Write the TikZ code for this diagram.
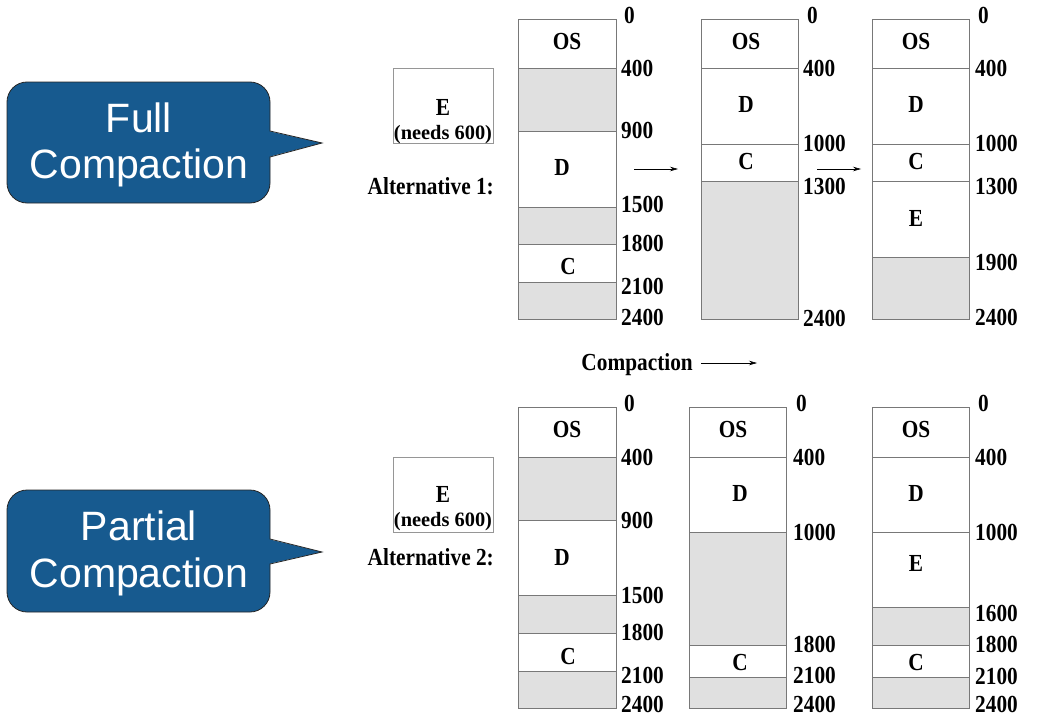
\documentclass[tikz,border=0pt]{standalone}
\usepackage{fontspec}
\setmainfont{Liberation Serif}
\newfontfamily\lblfont[FakeStretch=0.87]{Liberation Serif}
\newfontfamily\callfont{Liberation Sans}
\usetikzlibrary{arrows.meta}
\definecolor{callblue}{RGB}{23,90,143}
\definecolor{freegray}{RGB}{224,224,224}
\definecolor{linegray}{RGB}{120,120,120}
\definecolor{boxgray}{RGB}{150,150,150}
\begin{document}
\begin{tikzpicture}[x=1pt,y=-1pt,
  lbl/.style={font=\lblfont\fontsize{24.5}{28}\selectfont\bfseries, inner sep=0pt},
  addr/.style={lbl, anchor=west},
  seg/.style={draw=linegray, line width=0.9pt},
  free/.style={seg, fill=freegray},
  arr/.style={line width=0.6pt, -{Stealth[length=8pt,width=4.5pt]}},
  bubble/.style={fill=callblue, draw=black!85, line width=0.8pt, rounded corners=20pt},
  calltext/.style={font=\fontsize{41}{46}\callfont, text=white, inner sep=0pt, anchor=base},
  ebox/.style={draw=boxgray, line width=0.8pt},
  needs/.style={font=\fontsize{20.4}{24}\selectfont\bfseries, inner sep=0pt}
]
\useasboundingbox (0,0) rectangle (1038,717);

% ---------- callouts ----------
\draw[bubble] (7,82) rectangle (270,203);
\fill[callblue] (268,131) -- (322,143) -- (268,157) -- cycle;
\draw[black!85, line width=0.8pt] (270,131) -- (322,143) -- (270,157);
\node[calltext] (full) at (139,132) {Full};
\node[calltext] (fullc) at (139,178) {Compaction};

\draw[bubble] (7,490) rectangle (270,612);
\fill[callblue] (268,539) -- (322,552) -- (268,564) -- cycle;
\draw[black!85, line width=0.8pt] (270,539) -- (322,552) -- (270,564);
\node[calltext] (part) at (139,540) {Partial};
\node[calltext] (partc) at (139,587) {Compaction};

% ---------- E boxes ----------
\draw[ebox] (393,68) rectangle (493,143);
\node[lbl] (e1) at (443,107) {E};
\node[needs] (n1) at (443,135) {(needs 600)};
\node[lbl, anchor=east] (alt1) at (494,186) {Alternative 1:};

\draw[ebox] (393,457) rectangle (493,532);
\node[lbl] (e2) at (443,494) {E};
\node[needs] (n2) at (443,522) {(needs 600)};
\node[lbl, anchor=east] (alt2) at (494,557) {Alternative 2:};

% ---------- top row, left column ----------
\draw[seg]  (518,19) rectangle (616,68);
\draw[free] (518,68) rectangle (616,131);
\draw[seg]  (518,131) rectangle (616,207);
\draw[free] (518,207) rectangle (616,244);
\draw[seg]  (518,244) rectangle (616,282);
\draw[free] (518,282) rectangle (616,319);
\node[lbl] (t1os) at (567,42) {OS};
\node[lbl] (t1d) at (562,168) {D};
\node[lbl] (t1c) at (568,267) {C};
\node[addr] (t1a0) at (624,15) {0};
\node[addr] (t1a1) at (621,68) {400};
\node[addr] (t1a2) at (621,130) {900};
\node[addr] (t1a3) at (621,204) {1500};
\node[addr] (t1a4) at (621,243) {1800};
\node[addr] (t1a5) at (621,286) {2100};
\node[addr] (t1a6) at (621,317) {2400};

% ---------- top row, middle column ----------
\draw[seg]  (701,19) rectangle (798,68);
\draw[seg]  (701,68) rectangle (798,144);
\draw[seg]  (701,144) rectangle (798,181);
\draw[free] (701,181) rectangle (798,319);
\node[lbl] (t2os) at (746,42) {OS};
\node[lbl] (t2d) at (746,105) {D};
\node[lbl] (t2c) at (746,162) {C};
\node[addr] (t2a0) at (807,15) {0};
\node[addr] (t2a1) at (803,68) {400};
\node[addr] (t2a2) at (803,143) {1000};
\node[addr] (t2a3) at (803,186) {1300};
\node[addr] (t2a4) at (803,318) {2400};

% ---------- top row, right column ----------
\draw[seg]  (872,19) rectangle (969,68);
\draw[seg]  (872,68) rectangle (969,144);
\draw[seg]  (872,144) rectangle (969,181);
\draw[seg]  (872,181) rectangle (969,257);
\draw[free] (872,257) rectangle (969,319);
\node[lbl] (t3os) at (916,42) {OS};
\node[lbl] (t3d) at (916,105) {D};
\node[lbl] (t3c) at (916,162) {C};
\node[lbl] (t3e) at (916,218) {E};
\node[addr] (t3a0) at (978,15) {0};
\node[addr] (t3a1) at (975,68) {400};
\node[addr] (t3a2) at (975,143) {1000};
\node[addr] (t3a3) at (975,186) {1300};
\node[addr] (t3a4) at (975,262) {1900};
\node[addr] (t3a5) at (975,317) {2400};

% ---------- top arrows ----------
\coordinate (ta1s) at (634,169);
\coordinate (ta1e) at (678,169);
\coordinate (ta2s) at (817,169);
\coordinate (ta2e) at (861,169);
\draw[arr] (ta1s) -- (ta1e);
\draw[arr] (ta2s) -- (ta2e);

% ---------- compaction label ----------
\node[lbl, anchor=base east] (comp) at (693,370) {Compaction};
\coordinate (cas) at (701,363);
\coordinate (cae) at (757,363);
\draw[arr] (cas) -- (cae);

% ---------- bottom row, left column ----------
\draw[seg]  (518,407) rectangle (616,457);
\draw[free] (518,457) rectangle (616,520);
\draw[seg]  (518,520) rectangle (616,595);
\draw[free] (518,595) rectangle (616,633);
\draw[seg]  (518,633) rectangle (616,671);
\draw[free] (518,671) rectangle (616,708);
\node[lbl] (b1os) at (567,430) {OS};
\node[lbl] (b1d) at (562,557) {D};
\node[lbl] (b1c) at (568,657) {C};
\node[addr] (b1a0) at (624,403) {0};
\node[addr] (b1a1) at (621,457) {400};
\node[addr] (b1a2) at (621,520) {900};
\node[addr] (b1a3) at (621,595) {1500};
\node[addr] (b1a4) at (621,632) {1800};
\node[addr] (b1a5) at (621,675) {2100};
\node[addr] (b1a6) at (621,704) {2400};

% ---------- bottom row, middle column ----------
\draw[seg]  (689,407) rectangle (786,457);
\draw[seg]  (689,457) rectangle (786,532);
\draw[free] (689,532) rectangle (786,645);
\draw[seg]  (689,645) rectangle (786,677);
\draw[free] (689,677) rectangle (786,708);
\node[lbl] (b2os) at (733,430) {OS};
\node[lbl] (b2d) at (740,493) {D};
\node[lbl] (b2c) at (740,662) {C};
\node[addr] (b2a0) at (796,403) {0};
\node[addr] (b2a1) at (793,457) {400};
\node[addr] (b2a2) at (793,532) {1000};
\node[addr] (b2a3) at (793,644) {1800};
\node[addr] (b2a4) at (793,675) {2100};
\node[addr] (b2a5) at (793,704) {2400};

% ---------- bottom row, right column ----------
\draw[seg]  (872,407) rectangle (969,457);
\draw[seg]  (872,457) rectangle (969,532);
\draw[seg]  (872,532) rectangle (969,607);
\draw[free] (872,607) rectangle (969,645);
\draw[seg]  (872,645) rectangle (969,677);
\draw[free] (872,677) rectangle (969,708);
\node[lbl] (b3os) at (916,430) {OS};
\node[lbl] (b3d) at (916,493) {D};
\node[lbl] (b3e) at (916,563) {E};
\node[lbl] (b3c) at (916,662) {C};
\node[addr] (b3a0) at (978,403) {0};
\node[addr] (b3a1) at (975,457) {400};
\node[addr] (b3a2) at (975,532) {1000};
\node[addr] (b3a3) at (975,613) {1600};
\node[addr] (b3a4) at (975,644) {1800};
\node[addr] (b3a5) at (975,676) {2100};
\node[addr] (b3a6) at (975,704) {2400};
\end{tikzpicture}
\end{document}
